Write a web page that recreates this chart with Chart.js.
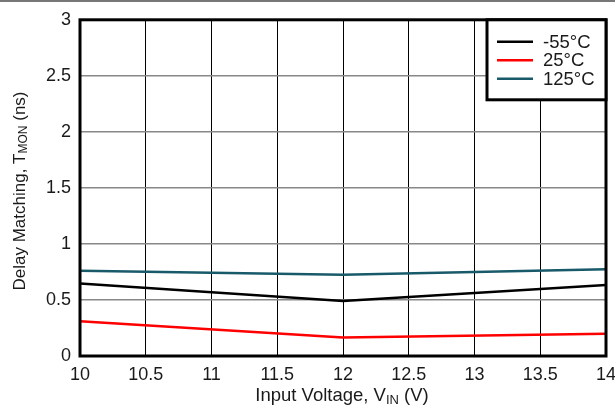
<!DOCTYPE html>
<html>
<head>
<meta charset="utf-8">
<script src="https://cdn.jsdelivr.net/npm/chart.js@4/dist/chart.umd.min.js"></script>
<style>
html,body{margin:0;padding:0;background:#fff;}
#wrap{width:615px;height:408px;position:relative;}
</style>
</head>
<body>
<div id="wrap"><canvas id="c" width="615" height="408"></canvas></div>
<script>
const voltages = [10, 12, 14];
const seriesLabels = ['-55°C', '25°C', '125°C'];
const valuesM55 = [0.648, 0.49, 0.633];
const values25 = [0.31, 0.166, 0.198];
const values125 = [0.761, 0.726, 0.773];
const seriesColors = ['#000000', '#ff0000', '#185a6a'];
const xTitle = ['Input Voltage, V', 'IN', ' (V)'];
const yTitle = ['Delay Matching, T', 'MON', ' (ns)'];

const FONT = '"Liberation Sans", Arial, sans-serif';

function drawSubText(ctx, parts, size, cx, cy) {
  const subSize = Math.round(size * 0.72);
  ctx.font = size + 'px ' + FONT;
  const w0 = ctx.measureText(parts[0]).width;
  const w2 = ctx.measureText(parts[2]).width;
  ctx.font = subSize + 'px ' + FONT;
  const w1 = ctx.measureText(parts[1]).width;
  const total = w0 + w1 + w2;
  let x = cx - total / 2;
  ctx.textBaseline = 'middle';
  ctx.textAlign = 'left';
  ctx.font = size + 'px ' + FONT;
  ctx.fillText(parts[0], x, cy); x += w0;
  ctx.font = subSize + 'px ' + FONT;
  ctx.fillText(parts[1], x, cy + size * 0.22); x += w1;
  ctx.font = size + 'px ' + FONT;
  ctx.fillText(parts[2], x, cy);
}

const decor = {
  id: 'decor',
  afterDraw(chart) {
    const ctx = chart.ctx;
    const a = chart.chartArea;
    ctx.save();
    // top page line
    ctx.strokeStyle = '#777';
    ctx.lineWidth = 2;
    ctx.beginPath(); ctx.moveTo(0, 1); ctx.lineTo(615, 1); ctx.stroke();
    // frame
    ctx.strokeStyle = '#000';
    ctx.lineWidth = 3;
    ctx.strokeRect(a.left, a.top, a.right - a.left, a.bottom - a.top);
    // axis titles
    ctx.fillStyle = '#1a1a1a';
    drawSubText(ctx, xTitle, 18.5, 342, 396);
    ctx.save();
    ctx.translate(20, 191);
    ctx.rotate(-Math.PI / 2);
    drawSubText(ctx, yTitle, 17, 0, 0);
    ctx.restore();
    // legend
    const lx = 487, ly = a.top, lw = a.right - lx, lh = 80;
    ctx.fillStyle = '#fff';
    ctx.fillRect(lx, ly, lw, lh);
    ctx.strokeStyle = '#000';
    ctx.lineWidth = 3;
    ctx.strokeRect(lx, ly, lw, lh);
    chart.data.datasets.forEach((ds, i) => {
      const yy = ly + 22 + i * 18.5;
      ctx.strokeStyle = ds.borderColor;
      ctx.lineWidth = 2.5;
      ctx.beginPath(); ctx.moveTo(497, yy); ctx.lineTo(533, yy); ctx.stroke();
      ctx.fillStyle = '#1a1a1a';
      ctx.font = '18.5px ' + FONT;
      ctx.textAlign = 'left';
      ctx.textBaseline = 'middle';
      ctx.fillText(ds.label, 543, yy + 1);
    });
    ctx.restore();
  }
};

const mk = (vals) => voltages.map((v, i) => ({x: v, y: vals[i]}));

new Chart(document.getElementById('c'), {
  type: 'line',
  data: {
    datasets: [
      {label: seriesLabels[0], data: mk(valuesM55), borderColor: seriesColors[0], borderWidth: 2.5, pointRadius: 0, tension: 0},
      {label: seriesLabels[1], data: mk(values25), borderColor: seriesColors[1], borderWidth: 2.5, pointRadius: 0, tension: 0},
      {label: seriesLabels[2], data: mk(values125), borderColor: seriesColors[2], borderWidth: 2.5, pointRadius: 0, tension: 0}
    ]
  },
  options: {
    responsive: false,
    animation: false,
    layout: {padding: {left: 0, top: 18, right: 0, bottom: 0}},
    plugins: {legend: {display: false}, tooltip: {enabled: false}},
    scales: {
      x: {
        type: 'linear', min: 10, max: 14,
        afterFit(s) { s.height = 52; s.paddingRight = 9; },
        ticks: {stepSize: 0.5, padding: 8, color: '#1a1a1a', font: {family: FONT, size: 18}, maxRotation: 0,
          callback: (v) => String(v)},
        grid: {color: '#000', lineWidth: 1, drawTicks: false},
        border: {display: false}
      },
      y: {
        min: 0, max: 3,
        afterFit(s) { s.width = 80; },
        ticks: {stepSize: 0.5, padding: 9, color: '#1a1a1a', font: {family: FONT, size: 18},
          callback: (v) => String(v)},
        grid: {color: '#888', lineWidth: 1.5, drawTicks: false},
        border: {display: false}
      }
    }
  },
  plugins: [decor]
});
</script>
</body>
</html>
